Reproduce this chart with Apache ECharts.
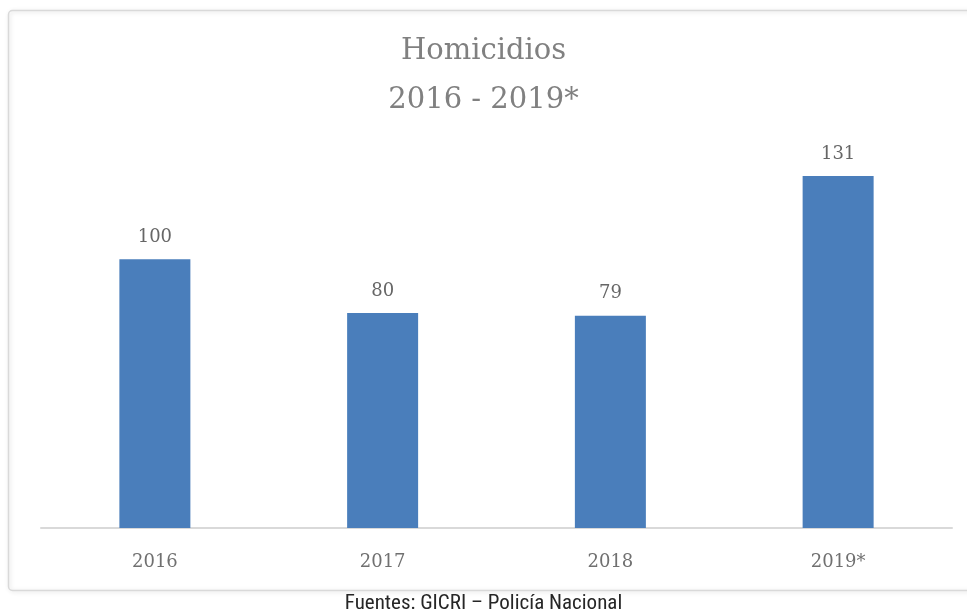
<!DOCTYPE html>
<html>
<head>
<meta charset="utf-8">
<script src="https://cdn.jsdelivr.net/npm/echarts@6/dist/echarts.min.js"></script>
<style>
html,body{margin:0;padding:0;background:#fff;}
#chart{width:967px;height:614px;}
</style>
</head>
<body>
<div id="chart"></div>
<script>
const titleLines = ['Homicidios', '2016 - 2019*'];
const categories = ['2016', '2017', '2018', '2019*'];
const values = [100, 80, 79, 131];
const sourceNote = 'Fuentes: GICRI – Policía Nacional';

const chart = echarts.init(document.getElementById('chart'));
chart.setOption({
  backgroundColor: '#ffffff',
  animation: false,
  title: {
    text: titleLines.join('\n'),
    left: 'center',
    top: 22,
    textStyle: {
      fontFamily: 'DejaVu Serif',
      fontSize: 29,
      fontWeight: 'normal',
      color: '#808080',
      lineHeight: 49
    }
  },
  graphic: [
    {
      type: 'rect',
      left: 6, top: 8,
      shape: { width: 975, height: 580, r: 4 },
      style: { fill: 'none', stroke: '#d9d9d9', lineWidth: 1.5, shadowBlur: 4, shadowColor: 'rgba(0,0,0,0.15)', shadowOffsetX: 1, shadowOffsetY: 1 },
      z: -1
    },
    {
      type: 'text',
      left: 'center',
      top: 593,
      style: {
        text: sourceNote,
        fontFamily: 'Liberation Sans Narrow, Roboto Condensed, Liberation Sans',
        fontSize: 21,
        fill: '#262626'
      }
    }
  ],
  grid: { left: 41, right: 15, top: 98, bottom: 86 },
  xAxis: {
    type: 'category',
    data: categories,
    axisLine: { show: true, lineStyle: { color: '#d9d9d9', width: 2 } },
    axisTick: { show: false },
    axisLabel: {
      margin: 25,
      fontFamily: 'DejaVu Serif',
      fontSize: 18,
      color: '#707070'
    }
  },
  yAxis: {
    type: 'value',
    min: 0,
    max: 160,
    show: false,
    splitLine: { show: false }
  },
  series: [{
    type: 'bar',
    data: values,
    barWidth: 71,
    itemStyle: { color: '#4a7ebb' },
    label: {
      show: true,
      position: 'top',
      distance: 13,
      fontFamily: 'DejaVu Serif',
      fontSize: 18,
      color: '#666666'
    }
  }]
});
</script>
</body>
</html>
